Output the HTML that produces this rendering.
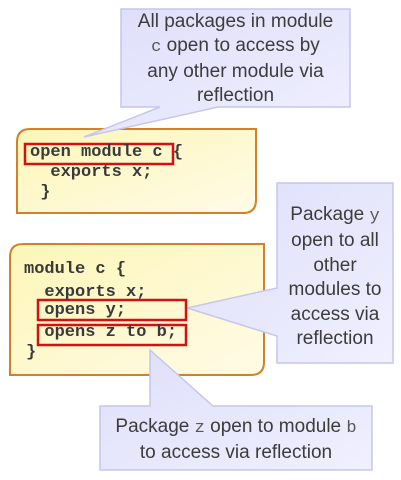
<!DOCTYPE html>
<html><head><style>
body{margin:0;width:401px;height:480px;background:#fff;position:relative;overflow:hidden;font-family:"Liberation Sans",sans-serif}
.c{position:absolute;font-family:"Liberation Mono",monospace;font-weight:bold;font-size:17px;line-height:20px;color:#3a3a3a;white-space:pre}
.t{position:absolute;text-align:center;color:#3c3c3c;font-size:19px;line-height:24px}
.m{font-family:"Liberation Mono",monospace;font-size:17px;color:#555}
</style></head><body>
<svg width="401" height="480" style="position:absolute;left:0;top:0">
<defs>
<linearGradient id="y" x1="0" y1="0" x2="1" y2="1"><stop offset="0" stop-color="#fdf6b8"/><stop offset="1" stop-color="#fffbe6"/></linearGradient>
<linearGradient id="b" x1="0" y1="0" x2="1" y2="1"><stop offset="0" stop-color="#dedefa"/><stop offset="1" stop-color="#f0f0ff"/></linearGradient>
</defs>
<path d="M30,129 H256 V200 Q256,213 243,213 H17 V142 Q17,129 30,129 Z" fill="url(#y)" stroke="#d4802a" stroke-width="2"/>
<path d="M23,244 H264 V362 Q264,375 251,375 H10 V257 Q10,244 23,244 Z" fill="url(#y)" stroke="#d4802a" stroke-width="2"/>
<path d="M121,9 H350 V107 H218 L84,137 L160,107 H121 Z" fill="url(#b)" stroke="#c6c6ee" stroke-width="1.5"/>
<path d="M277,183 H393 V363 H277 V336 L187,308 L277,288 Z" fill="url(#b)" stroke="#c6c6ee" stroke-width="1.5"/>
<path d="M100,406 H150 L150,350 L213,406 H372 V470 H100 Z" fill="url(#b)" stroke="#c6c6ee" stroke-width="1.5"/>
<rect x="25" y="144" width="148" height="20" fill="none" stroke="#d41010" stroke-width="2.5"/>
<rect x="38" y="300" width="148" height="20" fill="none" stroke="#d41010" stroke-width="2.5"/>
<rect x="38" y="325" width="148" height="20" fill="none" stroke="#d41010" stroke-width="2.5"/>
</svg>
<div class="c" style="left:30px;top:143px">open module c {</div>
<div class="c" style="left:30px;top:163px">  exports x;</div>
<div class="c" style="left:30px;top:183px"> }</div>
<div class="c" style="left:24px;top:260px">module c {</div>
<div class="c" style="left:24px;top:283px">  exports x;</div>
<div class="c" style="left:24px;top:301px">  opens y;</div>
<div class="c" style="left:24px;top:323px">  opens z to b;</div>
<div class="c" style="left:26px;top:343px">}</div>
<div class="t" style="left:121px;top:10px;width:229px">All packages in module<br><span class="m">c</span> open to access by<br>any other module via<br>reflection</div>
<div class="t" style="left:277px;top:203px;width:116px;line-height:24.4px">Package <span class="m">y</span><br>open to all<br>other<br>modules to<br>access via<br>reflection</div>
<div class="t" style="left:100px;top:415px;width:272px">Package <span class="m">z</span> open to module <span class="m">b</span><br>to access via reflection</div>
</body></html>
